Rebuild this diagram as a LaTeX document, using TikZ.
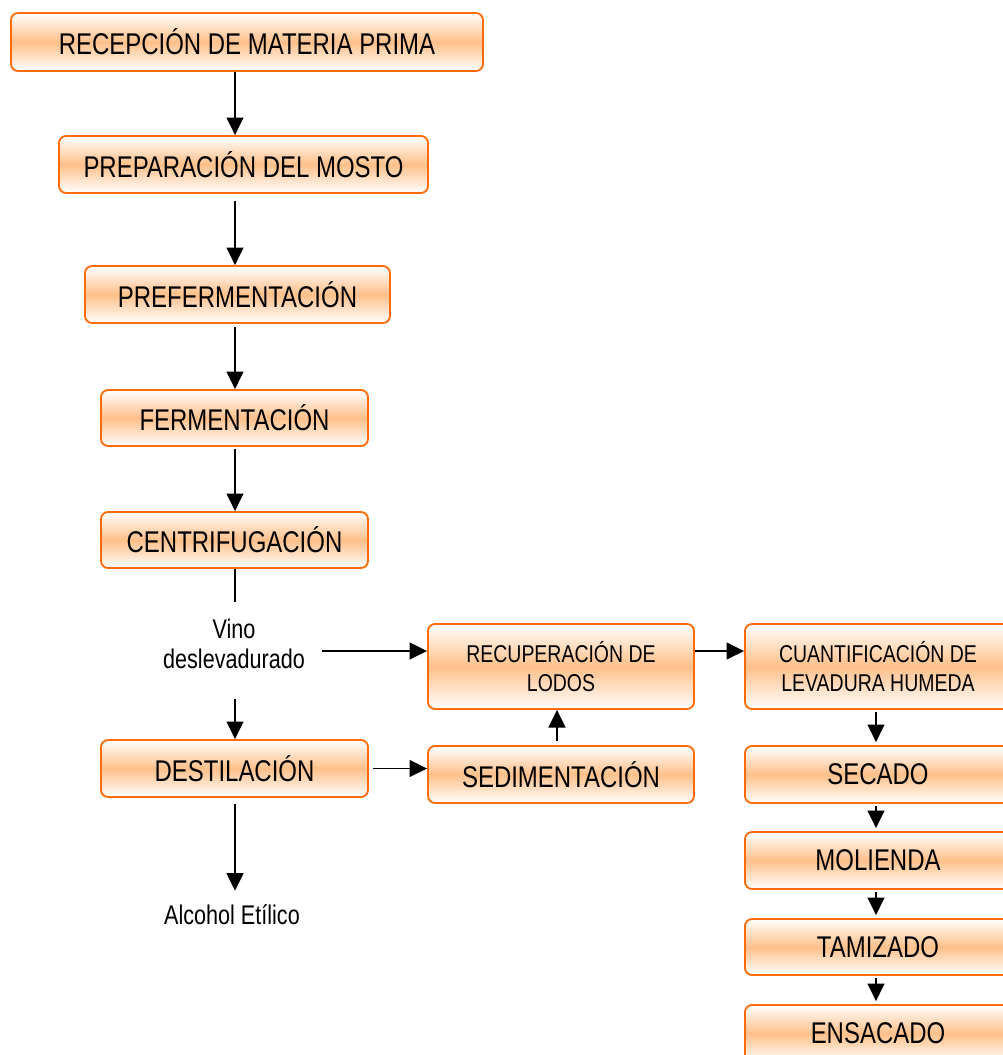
\documentclass[tikz,border=0pt]{standalone}
\usepackage{fontspec}
\setmainfont{Liberation Sans}[FakeStretch=0.8]
\usepackage{tikz}
\usetikzlibrary{arrows.meta}

\definecolor{boxedge}{RGB}{255,106,10}
\definecolor{boxfill}{RGB}{255,192,138}
\newcommand{\px}{0.025cm}

\tikzset{
	proc/.style={draw=boxedge,line width=1.3pt,rounded corners=5pt,
		top color=white,bottom color=white,middle color=boxfill,
		minimum width=267*\px,minimum height=57*\px,inner sep=0pt,
		align=center,font=\fontsize{21.3}{24}\selectfont},
	procs/.style={proc,font=\fontsize{17.3}{20}\selectfont},
	lbl/.style={align=center,inner sep=0pt,font=\fontsize{19.2}{21.3}\selectfont},
	arr/.style={line width=1.4pt,-{Triangle[length=12.5pt,width=12pt]}}
}

\begin{document}
\begin{tikzpicture}[x=\px,y=-\px]
\useasboundingbox (0,0) rectangle (1003,1055);
\clip (0,0) rectangle (1003,1055);
\coordinate (spine) at (235,0);
\coordinate (side) at (876,0);

% main line
\node (rec) [proc,minimum width=472*\px,minimum height=58*\px] at (247,42) {RECEPCIÓN DE MATERIA PRIMA};
\node (prep) [proc,minimum width=369*\px] at (243.5,164.5) {PREPARACIÓN DEL MOSTO};
\node (pref) [proc,minimum width=305*\px] at (237.5,294.5) {PREFERMENTACIÓN};
\node (ferm) [proc,minimum height=56*\px] at (234.5,418) {FERMENTACIÓN};
\node (cent) [proc,minimum height=56*\px] at (234.5,540) {CENTRIFUGACIÓN};
\node (vino) [lbl] at (234,644) {Vino\\deslevadurado};
\node (dest) [proc] at (234.5,768.5) {DESTILACIÓN};
\node (alco) [lbl] at (232,915) {Alcohol Etílico};

% lodos
\node (recu) [procs,minimum width=266*\px,minimum height=85*\px] at (561,666.5) {RECUPERACIÓN DE\\LODOS};
\node (sedi) [proc,minimum width=266*\px] at (561,774.5) {SEDIMENTACIÓN};

% levadura
\node (cuan) [procs,minimum width=266*\px,minimum height=85*\px] at (878,666.5) {CUANTIFICACIÓN DE\\LEVADURA HUMEDA};
\node (seca) [proc,minimum width=266*\px] at (878,774.5) {SECADO};
\node (moli) [proc,minimum width=266*\px] at (878,860.5) {MOLIENDA};
\node (tami) [proc,minimum width=266*\px,minimum height=56*\px] at (878,947) {TAMIZADO};
\node (ensa) [proc,minimum width=266*\px] at (878,1033.5) {ENSACADO};

\draw[arr] (spine |- rec.south) -- (spine |- prep.north);
\draw[arr] ([yshift=-7*\px]spine |- prep.south) -- (spine |- pref.north);
\draw[arr] ([yshift=-3*\px]spine |- pref.south) -- (spine |- ferm.north);
\draw[arr] ([yshift=-2*\px]spine |- ferm.south) -- (spine |- cent.north);
\draw[line width=1.4pt] (spine |- cent.south) -- ([yshift=17*\px]spine |- vino.north);
\draw[arr] ([yshift=-30*\px]spine |- vino.south) -- (spine |- dest.north);
\draw[arr] ([yshift=-6*\px]spine |- dest.south) -- ([yshift=14*\px]spine |- alco.north);
\draw[arr] ([shift={(17,7)}]vino.east) -- ([shift={(0,-15.5)}]recu.west);
\draw[arr] ([xshift=4*\px]dest.east) -- (sedi.west |- dest.east);
\draw[arr] ([shift={(-4,-4)}]sedi.north) -- ([xshift=-4*\px]recu.south);
\draw[arr] ([shift={(0,-15.5)}]recu.east) -- ([shift={(0,-15.5)}]cuan.west);
\foreach \a/\b in {cuan/seca,seca/moli,moli/tami,tami/ensa}{
	\draw[arr] ([yshift=-2*\px]side |- \a.south) -- ([yshift=3*\px]side |- \b.north);
}
\end{tikzpicture}
\end{document}
